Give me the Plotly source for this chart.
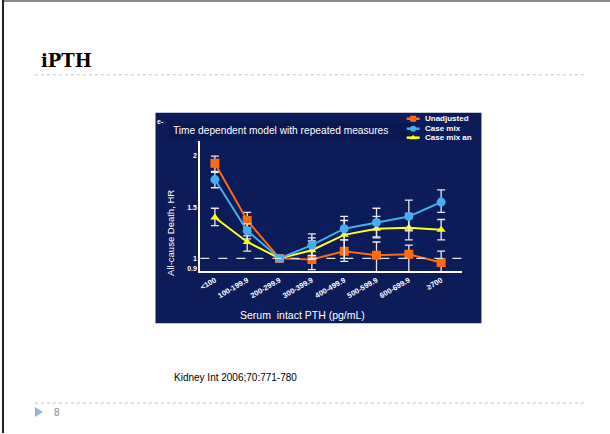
import plotly.graph_objects as go

W, H = 610, 434

# Categories of serum intact PTH (pg/mL)
categories = ["<100", "100-199.9", "200-299.9", "300-399.9",
              "400-499.9", "500-599.9", "600-699.9", "≥700"]

# All-cause death hazard ratios with 95% CI bounds
unadj_hr = [1.93, 1.37, 1.00, 0.99, 1.07, 1.03, 1.04, 0.96]
unadj_hi = [2.00, 1.45, 1.00, 1.17, 1.18, 1.16, 1.13, 1.07]
unadj_lo = [1.85, 1.30, 1.00, 0.89, 0.97, 0.87, 0.87, 0.87]

casemix_hr = [1.77, 1.27, 1.00, 1.13, 1.29, 1.35, 1.41, 1.55]
casemix_hi = [1.84, 1.34, 1.00, 1.24, 1.41, 1.49, 1.57, 1.67]
casemix_lo = [1.69, 1.19, 1.00, 1.03, 1.18, 1.21, 1.27, 1.45]

lab_hr = [1.40, 1.16, 1.00, 1.08, 1.23, 1.29, 1.30, 1.28]
lab_hi = [1.49, 1.22, 1.00, 1.20, 1.37, 1.41, 1.44, 1.38]
lab_lo = [1.32, 1.07, 1.00, 0.99, 1.00, 1.20, 1.18, 1.18]

series_names = ["Unadjusted", "Case mix", "Case mix an"]
series_colors = ["#ff6a10", "#45aef0", "#ffff1a"]
series_symbols = ["square", "circle", "triangle-up"]

y_ticks = [0.9, 1, 1.5, 2]

NAVY = "#0c1c58"
FONT = "Liberation Sans"


def px(x):
    return x / W


def py(y):
    return 1 - y / H


x_idx = list(range(len(categories)))

fig = go.Figure()

all_series = [
    (unadj_hr, unadj_hi, unadj_lo),
    (casemix_hr, casemix_hi, casemix_lo),
    (lab_hr, lab_hi, lab_lo),
]
sizes = [9, 9, 8]
# orange first, then yellow, blue on top
for k in [0, 2, 1]:
    hr, hi, lo = all_series[k]
    fig.add_trace(go.Scatter(
        x=x_idx, y=hr, mode="lines+markers",
        line=dict(color=series_colors[k], width=2),
        marker=dict(symbol=series_symbols[k], size=sizes[k],
                    color=series_colors[k]),
        error_y=dict(type="data", symmetric=False,
                     array=[h - v for h, v in zip(hi, hr)],
                     arrayminus=[v - l for v, l in zip(hr, lo)],
                     color="#e8e8ee", thickness=1.3, width=4),
        showlegend=False, name=series_names[k],
    ))

# Legend glyphs on a full-page pixel axis
leg_y = [119, 129, 138]
for k in range(3):
    fig.add_trace(go.Scatter(
        x=[406, 419], y=[leg_y[k], leg_y[k]], mode="lines",
        line=dict(color=series_colors[k], width=2.5),
        xaxis="x2", yaxis="y2", showlegend=False, hoverinfo="skip"))
    fig.add_trace(go.Scatter(
        x=[412.5], y=[leg_y[k]], mode="markers",
        marker=dict(symbol=series_symbols[k], size=6, color=series_colors[k]),
        xaxis="x2", yaxis="y2", showlegend=False, hoverinfo="skip"))
    fig.add_annotation(x=px(422), y=py(leg_y[k]), xref="paper", yref="paper",
                       text="<b>%s</b>" % series_names[k], showarrow=False,
                       xanchor="left", yanchor="middle",
                       font=dict(family=FONT, size=8, color="white"))

shapes = []
# slide frame
shapes.append(dict(type="line", xref="paper", yref="paper",
                   x0=0, x1=1, y0=py(1), y1=py(1),
                   line=dict(color="#8a8a8a", width=2)))
shapes.append(dict(type="line", xref="paper", yref="paper",
                   x0=px(1), x1=px(1), y0=0, y1=1,
                   line=dict(color="#222222", width=2)))
# title underline and footer line
shapes.append(dict(type="line", xref="paper", yref="paper",
                   x0=px(33), x1=px(586), y0=py(75), y1=py(75),
                   line=dict(color="#b8cad6", width=1, dash="dot")))
shapes.append(dict(type="line", xref="paper", yref="paper",
                   x0=px(33), x1=px(586), y0=py(404), y1=py(404),
                   line=dict(color="#c4c4c4", width=1, dash="dot")))
# page marker triangle
shapes.append(dict(type="path", xref="paper", yref="paper",
                   path="M %f %f L %f %f L %f %f Z" % (
                       px(33), py(408), px(41), py(413), px(33), py(418)),
                   fillcolor="#8fb4d6", line=dict(width=0)))
# chart panel
shapes.append(dict(type="rect", xref="paper", yref="paper", layer="below",
                   x0=px(154), x1=px(481), y0=py(324), y1=py(113),
                   fillcolor=NAVY, line=dict(width=0)))
shapes.append(dict(type="rect", xref="paper", yref="paper", layer="below",
                   x0=px(168), x1=px(411), y0=py(140), y1=py(123),
                   fillcolor="#0a1850", line=dict(width=0)))
# reference line at HR = 1
shapes.append(dict(type="line", xref="x domain", yref="y",
                   x0=0, x1=1, y0=1, y1=1,
                   line=dict(color="#e0e0e0", width=1.3, dash="dash")))
fig.update_layout(shapes=shapes)

# slide text
fig.add_annotation(x=px(37), y=py(61), xref="paper", yref="paper",
                   text="<b>iPTH</b>", showarrow=False, xanchor="left",
                   yanchor="middle",
                   font=dict(family="DejaVu Serif", size=18, color="black"))
fig.add_annotation(x=px(171), y=py(378), xref="paper", yref="paper",
                   text="Kidney Int 2006;70:771-780", showarrow=False,
                   xanchor="left", yanchor="middle",
                   font=dict(family=FONT, size=10, color="black"))
fig.add_annotation(x=px(50), y=py(413), xref="paper", yref="paper",
                   text="8", showarrow=False, xanchor="left", yanchor="middle",
                   font=dict(family=FONT, size=10, color="#8a8a8a"))

# chart text
fig.add_annotation(x=px(170), y=py(131), xref="paper", yref="paper",
                   text="Time dependent model with repeated measures",
                   showarrow=False, xanchor="left", yanchor="middle",
                   font=dict(family=FONT, size=10.2, color="white"))
fig.add_annotation(x=px(154), y=py(122), xref="paper", yref="paper",
                   text="<b>e-</b>", showarrow=False, xanchor="left",
                   yanchor="middle",
                   font=dict(family=FONT, size=7, color="white"))
fig.add_annotation(x=px(169), y=py(233), xref="paper", yref="paper",
                   text="All-cause Death, HR", showarrow=False, textangle=-90,
                   xanchor="center", yanchor="middle",
                   font=dict(family="Liberation Sans Narrow, Liberation Sans",
                             size=9.5, color="white"))
fig.add_annotation(x=px(301), y=py(316), xref="paper", yref="paper",
                   text="Serum  intact PTH (pg/mL)", showarrow=False,
                   xanchor="center", yanchor="middle",
                   font=dict(family=FONT, size=10.5, color="white"))

fig.update_layout(
    width=W, height=H,
    margin=dict(l=0, r=0, t=0, b=0),
    paper_bgcolor="white", plot_bgcolor="rgba(0,0,0,0)",
    xaxis=dict(domain=[px(199), px(462)], range=[-0.45, 7.66],
               tickmode="array", tickvals=x_idx,
               ticktext=["<b>%s</b>" % c for c in categories],
               tickangle=-30, showgrid=False, zeroline=False,
               showline=True, linecolor="white", linewidth=2,
               ticks="", tickfont=dict(family=FONT, size=7.5, color="white")),
    yaxis=dict(domain=[py(271.7), py(141)], range=[0.876, 2.15],
               tickmode="array", tickvals=y_ticks,
               ticktext=["<b>%g</b>" % v for v in y_ticks],
               showgrid=False, zeroline=False, showline=True,
               linecolor="white", linewidth=2, ticks="",
               tickfont=dict(family=FONT, size=7, color="white")),
    xaxis2=dict(domain=[0, 1], range=[0, W], visible=False, anchor="y2",
                fixedrange=True),
    yaxis2=dict(domain=[0, 1], range=[H, 0], visible=False, anchor="x2",
                fixedrange=True),
)

fig.write_html("out.html")
